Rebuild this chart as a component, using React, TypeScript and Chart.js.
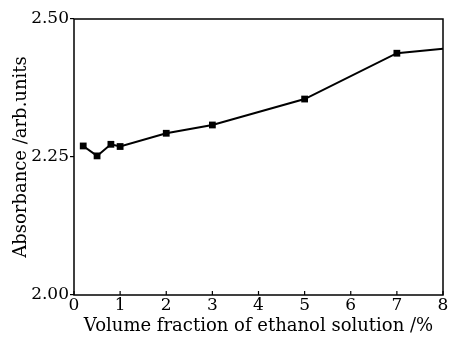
import React, { useEffect, useRef } from "react";
import { Chart, registerables } from "chart.js";

Chart.register(...registerables);

const xValues = [0.2, 0.5, 0.8, 1, 2, 3, 5, 7, 8];
const absorbance = [2.27, 2.252, 2.273, 2.269, 2.293, 2.308, 2.355, 2.438, 2.446];
const pointSizes = [4.8, 4.8, 4.8, 4.8, 4.8, 4.8, 4.8, 4.8, 0];
const xTickValues = [0, 1, 2, 3, 4, 5, 6, 7, 8];
const yTickValues = [2.0, 2.25, 2.5];
const xTitle = "Volume fraction of ethanol solution /%";
const yTitle = "Absorbance /arb.units";

const FONT = "'DejaVu Serif', serif";

const framePlugin = {
  id: "frame",
  afterDraw(chart: any) {
    const { ctx, chartArea } = chart;
    const xs = chart.scales.x;
    ctx.save();
    ctx.strokeStyle = "#000";
    ctx.lineWidth = 1.5;
    ctx.strokeRect(chartArea.left, chartArea.top, chartArea.right - chartArea.left, chartArea.bottom - chartArea.top);
    ctx.lineWidth = 1.2;
    xTickValues.forEach((v) => {
      const px = xs.getPixelForValue(v);
      ctx.beginPath();
      ctx.moveTo(px, chartArea.bottom);
      ctx.lineTo(px, chartArea.bottom - 4);
      ctx.stroke();
    });
    ctx.restore();
  },
};

export default function App() {
  const ref = useRef<HTMLCanvasElement>(null);
  useEffect(() => {
    document.body.style.margin = "0";
    const chart = new Chart(ref.current!, {
      type: "line",
      data: {
        datasets: [
          {
            data: xValues.map((x, i) => ({ x, y: absorbance[i] })),
            borderColor: "#000",
            backgroundColor: "#000",
            borderWidth: 2,
            pointStyle: "rect",
            pointRadius: pointSizes,
            pointBorderWidth: 0,
            tension: 0,
            clip: false as any,
          },
        ],
      },
      options: {
        animation: false,
        responsive: false,
        maintainAspectRatio: false,
        layout: { padding: { top: 19, right: 6, left: 0, bottom: 0 } },
        plugins: { legend: { display: false }, tooltip: { enabled: false } },
        scales: {
          x: {
            type: "linear",
            min: 0,
            max: 8,
            afterFit: (s: any) => {
              s.height = 42;
            },
            afterBuildTicks: (s: any) => {
              s.ticks = xTickValues.map((v) => ({ value: v }));
            },
            border: { display: false },
            grid: { drawOnChartArea: false, drawTicks: false },
            ticks: { color: "#000", font: { family: FONT, size: 17 }, padding: 0, maxRotation: 0 },
            title: {
              display: true,
              text: xTitle,
              color: "#000",
              font: { family: FONT, size: 18 },
              padding: { top: 0, bottom: 0 },
            },
          },
          y: {
            type: "linear",
            min: 2.0,
            max: 2.5,
            afterFit: (s: any) => {
              s.width = 74;
            },
            afterBuildTicks: (s: any) => {
              s.ticks = yTickValues.map((v) => ({ value: v }));
            },
            border: { display: false },
            grid: { drawOnChartArea: false, drawTicks: true, tickLength: 4, color: "#000", lineWidth: 1.2 },
            ticks: {
              color: "#000",
              font: { family: FONT, size: 17 },
              padding: 1,
              callback: (v: any) => Number(v).toFixed(2),
            },
            title: {
              display: true,
              text: yTitle,
              color: "#000",
              font: { family: FONT, size: 18 },
              padding: { top: 11, bottom: 0 },
            },
          },
        },
      },
      plugins: [framePlugin],
    });
    return () => chart.destroy();
  }, []);
  return (
    <div style={{ width: 449, height: 337, background: "#fff" }}>
      <canvas ref={ref} width={449} height={337} style={{ width: 449, height: 337, display: "block" }} />
    </div>
  );
}
